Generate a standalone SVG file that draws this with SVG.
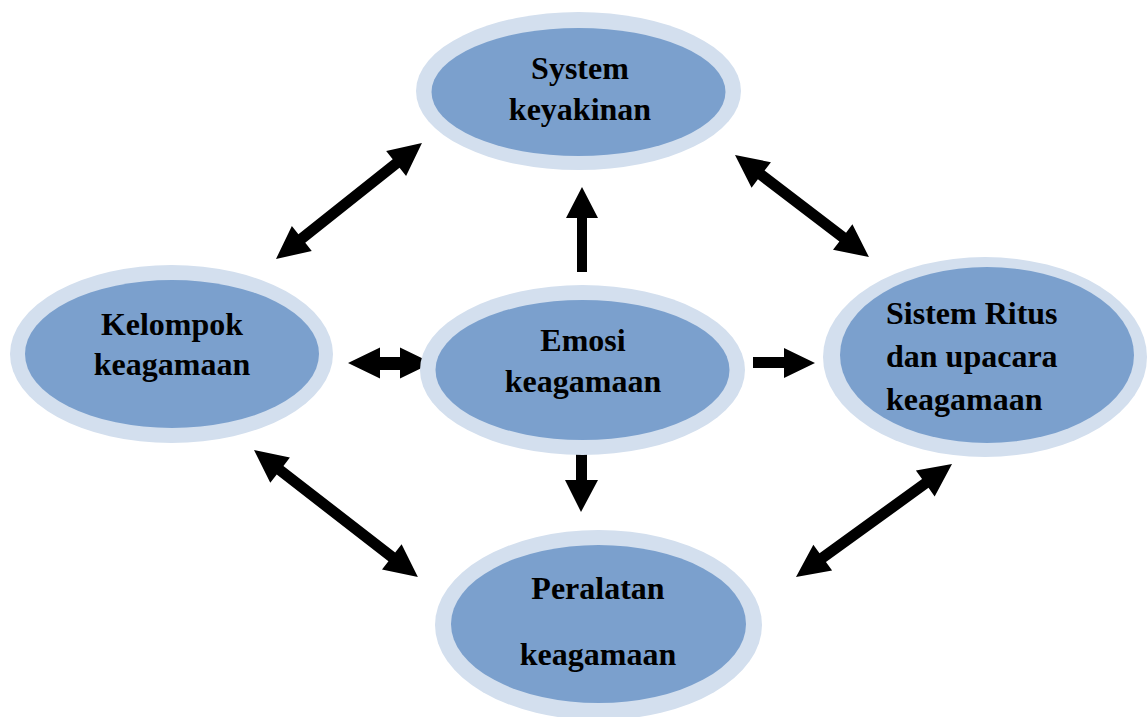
<svg xmlns="http://www.w3.org/2000/svg" width="1148" height="717" viewBox="0 0 1148 717">
<style>
.outer{fill:#d3dfee}
.inner{fill:#7ba0cd}
.t{font-family:"Liberation Serif","Times New Roman",serif;font-weight:bold;font-size:32px;fill:#000}
.c{text-anchor:middle}
.arr{fill:#000}
</style>
<rect width="1148" height="717" fill="#fff"/>
<g id="connectors">
<polygon class="arr" transform="translate(276,259) rotate(-38.5)" points="0,0 33,-16 33,-5.5 153.5,-5.5 153.5,-16 186.5,0 153.5,16 153.5,5.5 33,5.5 33,16"/>
<polygon class="arr" transform="translate(735,155) rotate(37.3)" points="0,0 33,-16 33,-5.5 135.4,-5.5 135.4,-16 168.4,0 135.4,16 135.4,5.5 33,5.5 33,16"/>
<polygon class="arr" transform="translate(254,450) rotate(37.8)" points="0,0 33,-16 33,-5.5 174.4,-5.5 174.4,-16 207.4,0 174.4,16 174.4,5.5 33,5.5 33,16"/>
<polygon class="arr" transform="translate(796,577) rotate(-35.9)" points="0,0 33,-16 33,-5.5 159.6,-5.5 159.6,-16 192.6,0 159.6,16 159.6,5.5 33,5.5 33,16"/>
<polygon class="arr" points="348,363 380,347.5 380,357 400,357 400,347.5 432,363 400,378.5 400,370 380,370 380,378.5"/>
<polygon class="arr" points="753,357 784,357 784,348 815,363 784,378 784,368 753,368"/>
<polygon class="arr" points="577,272 577,218 566,218 582,187 598,218 587,218 587,272"/>
<polygon class="arr" points="576,450 587,450 587,480 598,480 581,512 565,480 576,480"/>
</g>
<g id="node-top">
<ellipse class="outer" cx="578.5" cy="91" rx="162.5" ry="79"/>
<ellipse class="inner" cx="578.5" cy="92" rx="147" ry="64"/>
<text class="t c" x="580" y="79">System</text>
<text class="t c" x="580" y="120">keyakinan</text>
</g>
<g id="node-left">
<ellipse class="outer" cx="171.5" cy="354" rx="161.5" ry="89"/>
<ellipse class="inner" cx="172" cy="354" rx="147" ry="74"/>
<text class="t c" x="172" y="335">Kelompok</text>
<text class="t c" x="172" y="375">keagamaan</text>
</g>
<g id="node-center">
<ellipse class="outer" cx="582.5" cy="370" rx="162.5" ry="85"/>
<ellipse class="inner" cx="582.5" cy="370" rx="147" ry="70"/>
<text class="t c" x="583" y="351">Emosi</text>
<text class="t c" x="583" y="392">keagamaan</text>
</g>
<g id="node-right">
<ellipse class="outer" cx="985" cy="357" rx="162" ry="100"/>
<ellipse class="inner" cx="987" cy="355" rx="147" ry="88"/>
<text class="t" x="886" y="324">Sistem Ritus</text>
<text class="t" x="886" y="367">dan upacara</text>
<text class="t" x="886" y="410">keagamaan</text>
</g>
<g id="node-bottom">
<ellipse class="outer" cx="598.5" cy="625" rx="163.5" ry="95"/>
<ellipse class="inner" cx="598.5" cy="624" rx="147.5" ry="79"/>
<text class="t c" x="598" y="599">Peralatan</text>
<text class="t c" x="598" y="665">keagamaan</text>
</g>
</svg>
